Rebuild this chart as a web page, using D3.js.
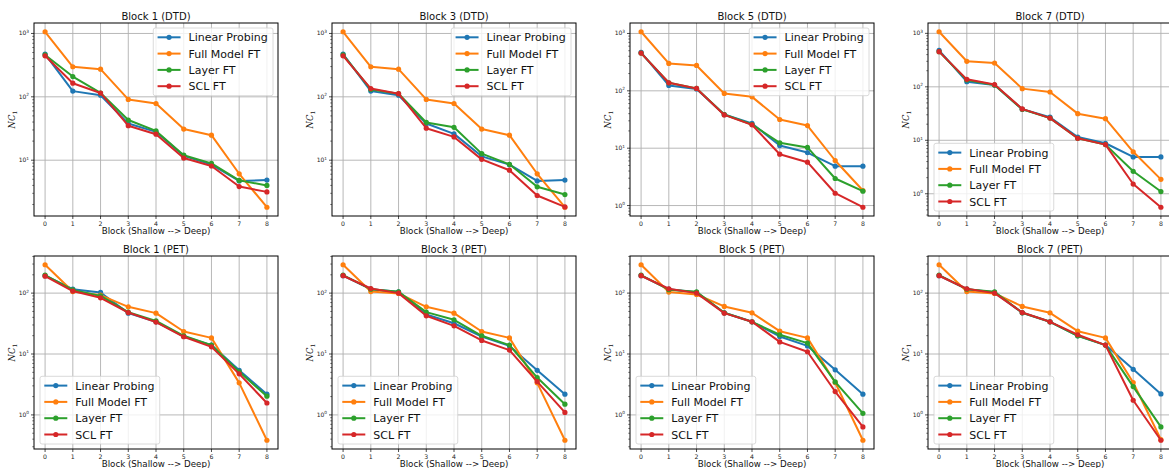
<!DOCTYPE html>
<html><head><meta charset="utf-8">
<script src="https://cdn.jsdelivr.net/npm/d3@7"></script>
<style>html,body{margin:0;padding:0;background:#fff;}svg{display:block;}</style>
</head><body>
<svg id="chart" width="1169" height="468"></svg>
<script>
// ---------- data ----------
const blocks = [0, 1, 2, 3, 4, 5, 6, 7, 8];
const xTickLabels = ["0", "1", "2", "3", "4", "5", "6", "7", "8"];
const seriesNames = ["Linear Probing", "Full Model FT", "Layer FT", "SCL FT"];
const seriesColors = ["#1f77b4", "#ff7f0e", "#2ca02c", "#d62728"];
const panelTitles = ["Block 1 (DTD)", "Block 3 (DTD)", "Block 5 (DTD)", "Block 7 (DTD)",
                     "Block 1 (PET)", "Block 3 (PET)", "Block 5 (PET)", "Block 7 (PET)"];
const legendLocs = ["upper right", "upper right", "upper right", "lower left",
                    "lower left", "lower left", "lower left", "lower left"];
const xLabel = "Block (Shallow --> Deep)";

// DTD
const dtd1Linear = [472, 123, 106, 38, 28, 11.7, 8.5, 4.7, 4.85];
const dtd1Full   = [1063, 298, 273, 91, 78.5, 31, 24.8, 6.1, 1.81];
const dtd1Layer  = [458, 209, 115, 43, 29, 12, 8.9, 4.8, 4.0];
const dtd1SCL    = [444, 164, 115, 35, 25.7, 10.8, 8.1, 3.84, 3.16];

const dtd3Linear = [472, 123, 106, 38, 26, 11.5, 8.5, 4.7, 4.85];
const dtd3Full   = [1063, 298, 273, 91, 78.5, 31, 24.8, 6.1, 1.81];
const dtd3Layer  = [458, 131, 112, 39.4, 33, 12.7, 8.6, 3.8, 2.87];
const dtd3SCL    = [444, 135, 112, 32, 23.3, 10.3, 6.95, 2.77, 1.83];

const dtd5Linear = [467, 124, 108, 38.6, 27, 11.1, 8.4, 4.85, 4.85];
const dtd5Full   = [1070, 300, 277, 90, 78.5, 31.6, 24.8, 6.1, 1.83];
const dtd5Layer  = [455, 138, 110, 38.6, 25.9, 12.4, 10.3, 2.96, 1.78];
const dtd5SCL    = [455, 138, 110, 38, 25.5, 7.85, 5.7, 1.64, 0.935];

const dtd7Linear = [481, 125, 108, 38, 27, 11.5, 8.8, 4.88, 4.88];
const dtd7Full   = [1070, 300, 279, 92.5, 80, 31.5, 25.4, 6.1, 1.86];
const dtd7Layer  = [455, 134, 108, 38, 26, 10.9, 8.3, 2.63, 1.1];
const dtd7SCL    = [455, 138, 110, 38.6, 26, 10.9, 8.3, 1.52, 0.56];

// PET
const pet1Linear = [193, 116, 102.6, 46.9, 33.8, 19.4, 14, 5.4, 2.19];
const pet1Full   = [292, 106, 92.7, 59.6, 46.9, 23.4, 18.4, 3.36, 0.384];
const pet1Layer  = [198, 113, 90, 48.7, 35, 19.9, 14, 5.1, 2.03];
const pet1SCL    = [190, 108, 83.8, 48, 33.4, 19.2, 13.1, 4.72, 1.57];

const pet3Linear = [193, 116, 105, 44.6, 32, 19.4, 13.6, 5.4, 2.19];
const pet3Full   = [292, 106, 99, 59.6, 46.9, 23.4, 18.4, 3.36, 0.384];
const pet3Layer  = [198, 116, 105, 48.7, 36.5, 19.9, 14, 4.1, 1.5];
const pet3SCL    = [193, 119, 100, 42.4, 29, 16.7, 11.6, 3.53, 1.1];

const pet5Linear = [193, 116, 103, 47.5, 33.8, 19.4, 13.6, 5.5, 2.19];
const pet5Full   = [292, 104, 95, 60.4, 47.5, 23.7, 18.4, 3.4, 0.384];
const pet5Layer  = [198, 114, 105, 47.5, 33.8, 20.7, 15.1, 3.48, 1.06];
const pet5SCL    = [193, 118, 100, 46.9, 33.8, 15.8, 10.9, 2.42, 0.635];

const pet7Linear = [193, 116, 103, 47.5, 33.8, 19.9, 14, 5.6, 2.21];
const pet7Full   = [292, 106, 99, 60.4, 47.5, 23.7, 18.4, 3.4, 0.394];
const pet7Layer  = [198, 116, 105, 47.5, 33.8, 19.9, 14, 2.92, 0.635];
const pet7SCL    = [193, 118, 100, 48, 33.8, 20.7, 14, 1.74, 0.384];

const panels = [
  [dtd1Linear, dtd1Full, dtd1Layer, dtd1SCL],
  [dtd3Linear, dtd3Full, dtd3Layer, dtd3SCL],
  [dtd5Linear, dtd5Full, dtd5Layer, dtd5SCL],
  [dtd7Linear, dtd7Full, dtd7Layer, dtd7SCL],
  [pet1Linear, pet1Full, pet1Layer, pet1SCL],
  [pet3Linear, pet3Full, pet3Layer, pet3SCL],
  [pet5Linear, pet5Full, pet5Layer, pet5SCL],
  [pet7Linear, pet7Full, pet7Layer, pet7SCL]
];

// ---------- layout ----------
const svg = d3.select("#chart");
svg.append("rect").attr("width", 1169).attr("height", 468).attr("fill", "#fff");
const FONT = "DejaVu Sans, sans-serif";
const axW = 244, axH = 193;
const colStep = 298, rowStep = 233;
const left0 = 34, top0 = 23;

panels.forEach((series, pi) => {
  const col = pi % 4, row = Math.floor(pi / 4);
  const ox = left0 + col * colStep, oy = top0 + row * rowStep;
  const g = svg.append("g").attr("transform", `translate(${ox},${oy})`);

  const x = d3.scaleLinear().domain([-0.4, 8.4]).range([0, axW]);
  const all = series.flat();
  const lmin = Math.log10(d3.min(all)), lmax = Math.log10(d3.max(all));
  const pad = (lmax - lmin) * 0.05;
  const y = d3.scaleLog().domain([Math.pow(10, lmin - pad), Math.pow(10, lmax + pad)]).range([axH, 0]);

  const clipId = "clip" + pi;
  g.append("clipPath").attr("id", clipId).append("rect").attr("width", axW).attr("height", axH);

  // grid
  const grid = g.append("g");
  blocks.forEach(b => {
    grid.append("line").attr("x1", x(b)).attr("x2", x(b)).attr("y1", 0).attr("y2", axH)
      .attr("stroke", "#b0b0b0").attr("stroke-width", 0.9);
  });
  const [d0, d1] = y.domain();
  const majors = [];
  for (let e = Math.ceil(Math.log10(d0)); e <= Math.floor(Math.log10(d1)); e++) majors.push(e);
  majors.forEach(e => {
    grid.append("line").attr("x1", 0).attr("x2", axW).attr("y1", y(Math.pow(10, e))).attr("y2", y(Math.pow(10, e)))
      .attr("stroke", "#b0b0b0").attr("stroke-width", 0.9);
  });

  // series
  const plot = g.append("g").attr("clip-path", `url(#${clipId})`);
  series.forEach((vals, si) => {
    const pts = blocks.map((b, i) => [x(b), y(vals[i])]);
    plot.append("path").attr("d", d3.line()(pts)).attr("fill", "none")
      .attr("stroke", seriesColors[si]).attr("stroke-width", 2).attr("stroke-linejoin", "round");
    pts.forEach(p => plot.append("circle").attr("cx", p[0]).attr("cy", p[1]).attr("r", 2.6)
      .attr("fill", seriesColors[si]));
  });

  // spines
  g.append("rect").attr("width", axW).attr("height", axH).attr("fill", "none")
    .attr("stroke", "#000").attr("stroke-width", 1);

  // x ticks
  blocks.forEach((b, i) => {
    g.append("line").attr("x1", x(b)).attr("x2", x(b)).attr("y1", axH).attr("y2", axH + 3)
      .attr("stroke", "#000").attr("stroke-width", 0.7);
    g.append("text").attr("x", x(b)).attr("y", axH + 9.5).attr("text-anchor", "middle")
      .attr("font-family", FONT).attr("font-size", 6.2).attr("fill", "#222").text(xTickLabels[i]);
  });
  // y ticks
  for (let e = Math.floor(Math.log10(d0)); e <= Math.ceil(Math.log10(d1)); e++) {
    for (let m = 2; m <= 9; m++) {
      const v = m * Math.pow(10, e);
      if (v < d0 || v > d1) continue;
      g.append("line").attr("x1", 0).attr("x2", -1.8).attr("y1", y(v)).attr("y2", y(v))
        .attr("stroke", "#000").attr("stroke-width", 0.5);
    }
  }
  majors.forEach(e => {
    const yy = y(Math.pow(10, e));
    g.append("line").attr("x1", 0).attr("x2", -3).attr("y1", yy).attr("y2", yy)
      .attr("stroke", "#000").attr("stroke-width", 0.7);
    const t = g.append("text").attr("x", -5).attr("y", yy + 2).attr("text-anchor", "end")
      .attr("font-family", FONT).attr("font-size", 6).attr("fill", "#222");
    t.append("tspan").text("10");
    t.append("tspan").attr("dy", -2.6).attr("font-size", 4.3).text(String(e));
  });

  // title
  g.append("text").attr("x", axW / 2).attr("y", -3.5).attr("text-anchor", "middle")
    .attr("font-family", FONT).attr("font-size", 10).attr("fill", "#111").text(panelTitles[pi]);
  // x label
  g.append("text").attr("x", axW / 2).attr("y", axH + 17.5).attr("text-anchor", "middle")
    .attr("font-family", FONT).attr("font-size", 8.7).attr("fill", "#111").text(xLabel);
  // y label
  const yl = g.append("text").attr("transform", `translate(-19.5,${axH / 2}) rotate(-90)`)
    .attr("text-anchor", "middle").attr("font-family", "DejaVu Serif, serif").attr("font-size", 8.5).attr("fill", "#111");
  yl.append("tspan").attr("font-style", "italic").text("NC");
  yl.append("tspan").attr("dy", 2).attr("font-size", 6).text("1");

  // legend
  const fs = 11, rowH = 16.3, padIn = 4.3, handleLen = 23, textGap = 8;
  const lg = g.append("g");
  const box = lg.append("rect").attr("rx", 2).attr("fill", "#fff").attr("fill-opacity", 0.8)
    .attr("stroke", "#d0d0d0").attr("stroke-width", 0.8);
  let maxW = 0;
  const items = seriesNames.map((nm, si) => {
    const it = lg.append("g");
    it.append("line").attr("x1", 0).attr("x2", handleLen).attr("y1", 0).attr("y2", 0)
      .attr("stroke", seriesColors[si]).attr("stroke-width", 2);
    it.append("circle").attr("cx", handleLen / 2).attr("cy", 0).attr("r", 2.6).attr("fill", seriesColors[si]);
    const t = it.append("text").attr("x", handleLen + textGap).attr("y", 4)
      .attr("font-family", FONT).attr("font-size", fs).attr("fill", "#111").text(nm);
    maxW = Math.max(maxW, t.node().getComputedTextLength());
    return it;
  });
  const bw = padIn * 2 + handleLen + textGap + maxW + 1;
  const bh = rowH * 4 + 2.5;
  let bx, by;
  if (legendLocs[pi] === "upper right") { bx = axW - 5 - bw; by = 5; }
  else { bx = 6; by = axH - 5 - bh; }
  box.attr("x", bx).attr("y", by).attr("width", bw).attr("height", bh);
  items.forEach((it, k) => it.attr("transform", `translate(${bx + padIn},${by + 9.3 + k * rowH})`));
});
</script>
</body></html>
